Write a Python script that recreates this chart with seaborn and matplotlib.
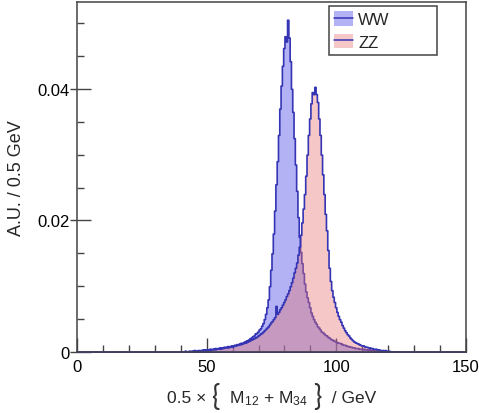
import numpy as np
import pandas as pd
import matplotlib
matplotlib.use('Agg')
import matplotlib.pyplot as plt
import seaborn as sns
from matplotlib.patches import Patch
from matplotlib.lines import Line2D
from matplotlib.ticker import MultipleLocator, FixedLocator, FixedFormatter

bin_start = 40.0
bin_width = 0.5

ww = [
    0.0001, 0.0000, 0.0001, 0.0002, 0.0001, 0.0001, 0.0002, 0.0001, 0.0002, 0.0002,  # 40-45
    0.0003, 0.0002, 0.0002, 0.0003, 0.0002, 0.0003, 0.0003, 0.0004, 0.0003, 0.0004,  # 45-50
    0.0004, 0.0004, 0.0005, 0.0004, 0.0005, 0.0005, 0.0006, 0.0005, 0.0006, 0.0006,  # 50-55
    0.0007, 0.0006, 0.0007, 0.0008, 0.0007, 0.0008, 0.0009, 0.0008, 0.0009, 0.0010,  # 55-60
    0.0010, 0.0011, 0.0011, 0.0012, 0.0012, 0.0013, 0.0014, 0.0013, 0.0015, 0.0016,  # 60-65
    0.0017, 0.0018, 0.0019, 0.0021, 0.0022, 0.0024, 0.0025, 0.0028, 0.0029, 0.0031,  # 65-70
    0.0034, 0.0036, 0.0040, 0.0044, 0.0050, 0.0058, 0.0068, 0.0080, 0.0100, 0.0125,  # 70-75
    0.0150, 0.0180, 0.0215, 0.0255, 0.0290, 0.0330, 0.0370, 0.0405, 0.0435, 0.0462,  # 75-80
    0.0480, 0.0472, 0.0505, 0.0478, 0.0442, 0.0400, 0.0365, 0.0325, 0.0285, 0.0245,  # 80-85
    0.0205, 0.0175, 0.0152, 0.0135, 0.0120, 0.0104, 0.0092, 0.0083, 0.0076, 0.0068,  # 85-90
    0.0060, 0.0055, 0.0050, 0.0046, 0.0043, 0.0039, 0.0037, 0.0034, 0.0031, 0.0030,  # 90-95
    0.0028, 0.0026, 0.0025, 0.0023, 0.0022, 0.0020, 0.0019, 0.0018, 0.0017, 0.0016,  # 95-100
    0.0015, 0.0014, 0.0014, 0.0013, 0.0012, 0.0011, 0.0011, 0.0010, 0.0009, 0.0009,  # 100-105
    0.0008, 0.0008, 0.0007, 0.0007, 0.0006, 0.0006, 0.0006, 0.0005, 0.0005, 0.0005,  # 105-110
    0.0004, 0.0005, 0.0004, 0.0004, 0.0003, 0.0004, 0.0003, 0.0003, 0.0003, 0.0002,  # 110-115
    0.0003, 0.0002, 0.0002, 0.0002, 0.0001, 0.0002, 0.0001, 0.0001, 0.0001, 0.0001,  # 115-120
    0.0001, 0.0000, 0.0001, 0.0000, 0.0001, 0.0000, 0.0000, 0.0001, 0.0000, 0.0000,  # 120-125
]

zz = [
    0.0000, 0.0001, 0.0000, 0.0001, 0.0001, 0.0000, 0.0001, 0.0001, 0.0001, 0.0002,  # 40-45
    0.0001, 0.0002, 0.0002, 0.0001, 0.0002, 0.0002, 0.0003, 0.0002, 0.0003, 0.0003,  # 45-50
    0.0003, 0.0004, 0.0003, 0.0004, 0.0004, 0.0005, 0.0004, 0.0005, 0.0005, 0.0006,  # 50-55
    0.0005, 0.0006, 0.0006, 0.0007, 0.0007, 0.0008, 0.0007, 0.0008, 0.0009, 0.0008,  # 55-60
    0.0009, 0.0010, 0.0010, 0.0011, 0.0011, 0.0012, 0.0012, 0.0013, 0.0014, 0.0014,  # 60-65
    0.0015, 0.0016, 0.0017, 0.0018, 0.0019, 0.0020, 0.0021, 0.0022, 0.0023, 0.0025,  # 65-70
    0.0026, 0.0028, 0.0029, 0.0031, 0.0033, 0.0035, 0.0037, 0.0039, 0.0042, 0.0045,  # 70-75
    0.0047, 0.0050, 0.0053, 0.0070, 0.0058, 0.0061, 0.0065, 0.0068, 0.0072, 0.0076,  # 75-80
    0.0080, 0.0085, 0.0089, 0.0094, 0.0100, 0.0106, 0.0113, 0.0121, 0.0128, 0.0136,  # 80-85
    0.0148, 0.0160, 0.0178, 0.0197, 0.0218, 0.0240, 0.0268, 0.0300, 0.0330, 0.0355,  # 85-90
    0.0378, 0.0395, 0.0392, 0.0403, 0.0392, 0.0380, 0.0355, 0.0330, 0.0300, 0.0270,  # 90-95
    0.0240, 0.0210, 0.0185, 0.0155, 0.0128, 0.0108, 0.0094, 0.0084, 0.0076, 0.0068,  # 95-100
    0.0061, 0.0055, 0.0050, 0.0046, 0.0041, 0.0037, 0.0033, 0.0030, 0.0027, 0.0025,  # 100-105
    0.0022, 0.0020, 0.0018, 0.0016, 0.0015, 0.0014, 0.0013, 0.0012, 0.0011, 0.0010,  # 105-110
    0.0010, 0.0009, 0.0008, 0.0008, 0.0007, 0.0007, 0.0006, 0.0006, 0.0005, 0.0005,  # 110-115
    0.0005, 0.0004, 0.0004, 0.0003, 0.0003, 0.0003, 0.0002, 0.0003, 0.0002, 0.0002,  # 115-120
    0.0002, 0.0001, 0.0001, 0.0001, 0.0001, 0.0000, 0.0001, 0.0000, 0.0000, 0.0000,  # 120-125
]

labels = ['WW', 'ZZ']
x_ticks = [0, 50, 100, 150]
y_ticks = [0, 0.02, 0.04]
y_tick_labels = ['0', '0.02', '0.04']
# partes do titulo do eixo x: (texto, tamanho da fonte)
xlabel_parts = [('0.5 \u00d7 ', 12.5), ('{', 20), (r'  M$_{12}$ + M$_{34}$  ', 12.5),
                ('}', 20), ('  / GeV', 12.5)]

sns.set_style('ticks')
plt.rcParams['font.family'] = ['Liberation Sans', 'DejaVu Sans']
plt.rcParams['mathtext.fontset'] = 'custom'
plt.rcParams['mathtext.rm'] = 'Liberation Sans'
plt.rcParams['mathtext.it'] = 'Liberation Sans:italic'
plt.rcParams['mathtext.bf'] = 'Liberation Sans:bold'
plt.rcParams['mathtext.default'] = 'rm'

centers = bin_start + bin_width * (np.arange(len(ww)) + 0.5)
edges = list(np.arange(0, 150 + bin_width / 2, bin_width))
df_ww = pd.DataFrame({'m': centers, 'w': ww})
df_zz = pd.DataFrame({'m': centers, 'w': zz})

line_col = '#3434b4'
ww_face = (0.40, 0.40, 0.93, 0.50)
zz_face = (0.90, 0.46, 0.46, 0.40)

W, H = 479, 414
fig = plt.figure(figsize=(W / 100, H / 100), dpi=100)
ax = fig.add_axes([77 / W, 1 - 353 / H, 389 / W, 350 / H])

sns.histplot(data=df_ww, x='m', weights='w', bins=edges, element='step', fill=True,
             facecolor=ww_face, edgecolor=line_col, linewidth=1.2, ax=ax)
sns.histplot(data=df_zz, x='m', weights='w', bins=edges, element='step', fill=True,
             facecolor=zz_face, edgecolor=line_col, linewidth=1.2, ax=ax)

ax.set_xlim(0, 150)
ax.set_ylim(0, 0.0532)
ax.xaxis.set_major_locator(FixedLocator(x_ticks))
ax.xaxis.set_minor_locator(MultipleLocator(10))
ax.yaxis.set_major_locator(FixedLocator(y_ticks))
ax.yaxis.set_major_formatter(FixedFormatter(y_tick_labels))
ax.yaxis.set_minor_locator(MultipleLocator(0.005))
ax.tick_params(which='both', direction='in', colors='#444444', labelcolor='black',
               labelsize=12, width=1)
ax.tick_params(which='major', length=10, pad=5)
ax.tick_params(which='minor', length=5)
for s in ax.spines.values():
    s.set_color('#444444')
    s.set_linewidth(1.1)
    s.set_visible(True)

# pequenos tracos para fora nas marcas principais do eixo y
sec = ax.secondary_yaxis('left')
sec.set_yticks(y_ticks)
sec.set_yticklabels([])
sec.tick_params(direction='out', length=5, width=1, colors='#444444')
sec.spines['left'].set_visible(False)

ax.set_xlabel('')
ax.set_ylabel('A.U. / 0.5 GeV', fontsize=13, labelpad=9)

# titulo do eixo x montado em partes, com chaves grandes
renderer = fig.canvas.get_renderer()
pieces = []
for txt, fs in xlabel_parts:
    if fs > 13:
        t = fig.text(0, 0, txt, fontsize=fs, ha='left', va='baseline',
                     family=['Lato', 'DejaVu Sans'], fontweight='normal', color='#333333')
    else:
        t = fig.text(0, 0, txt, fontsize=fs, ha='left', va='baseline')
    pieces.append(t)
widths = [t.get_window_extent(renderer).width for t in pieces]
x0 = (77 + 466) / 2 - sum(widths) / 2
base = 403
for t, w, (txt, fs) in zip(pieces, widths, xlabel_parts):
    yb = base + 3 if fs > 13 else base
    t.set_position((x0 / W, 1 - yb / H))
    x0 += w

handles = [
    (Patch(facecolor=ww_face, edgecolor='none'), Line2D([], [], color=line_col, lw=1.1)),
    (Patch(facecolor=zz_face, edgecolor='none'), Line2D([], [], color=line_col, lw=1.1)),
]
leg = ax.legend(handles, labels, loc='upper left', mode='expand',
                bbox_to_anchor=(252 / 389, 0.85, 108 / 389, (346 / 350) - 0.85),
                fontsize=12, frameon=True, fancybox=False, borderpad=0.3,
                handlelength=1.15, handleheight=1.0, handletextpad=0.3,
                labelspacing=0.38, borderaxespad=0)
leg.get_frame().set_edgecolor('#444444')
leg.get_frame().set_linewidth(1.1)
leg.get_frame().set_alpha(1)

fig.savefig('out.png', dpi=100)
